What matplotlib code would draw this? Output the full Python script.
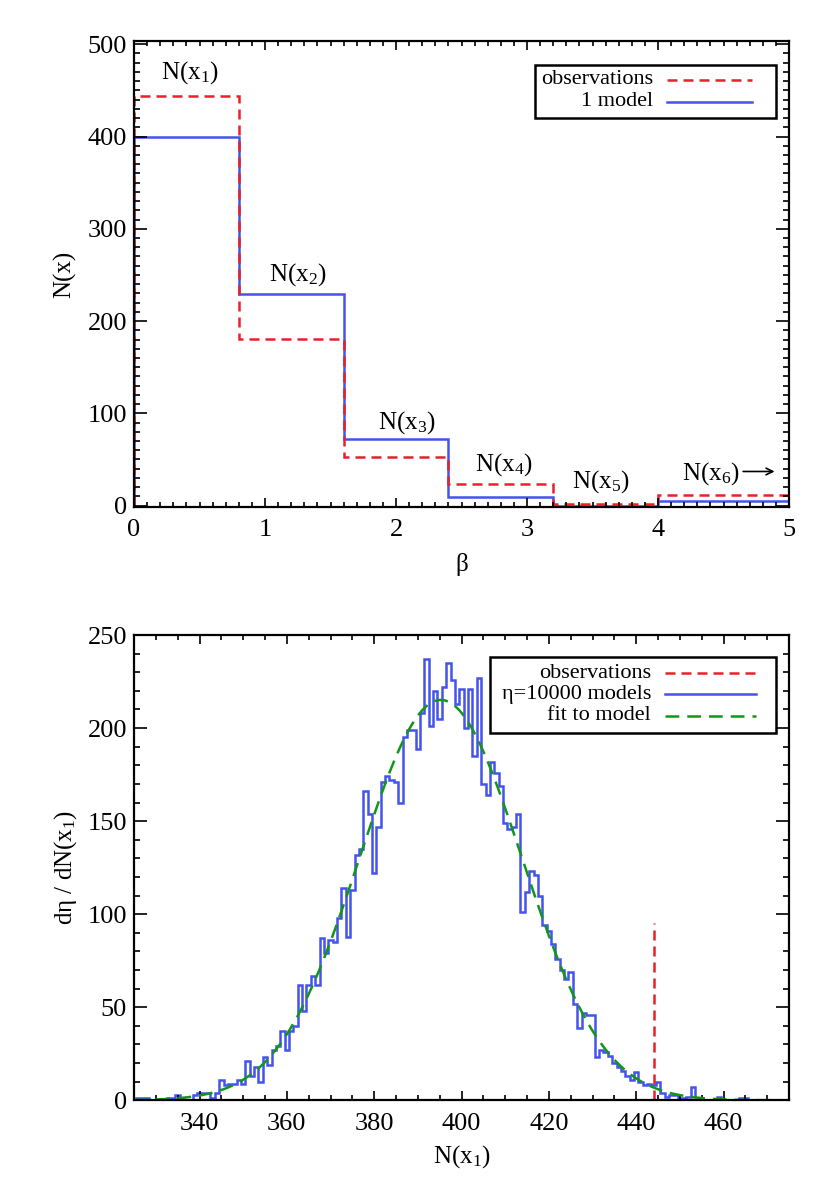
import numpy as np
import matplotlib
matplotlib.use("Agg")
import matplotlib.pyplot as plt
from matplotlib.ticker import MultipleLocator
from matplotlib.patches import Rectangle
from matplotlib.lines import Line2D

plt.rcParams['font.family'] = ['Liberation Serif', 'DejaVu Serif']
plt.rcParams['mathtext.fontset'] = 'custom'
plt.rcParams['mathtext.rm'] = 'Liberation Serif'
plt.rcParams['mathtext.it'] = 'Liberation Serif:italic'
plt.rcParams['mathtext.default'] = 'rm'

RED = '#e8202a'
BLUE = '#4453ec'
GREEN = '#12961a'

# ---- top panel: number of stars per beta bin ----
beta_edges = [0.0, 0.8, 1.6, 2.4, 3.2, 4.0, 5.8]
n_obs = [444, 181, 53, 23, 2, 11]
n_model = [400, 229, 72, 9, 0, 5]
bin_labels = [r'N(x$_1$)', r'N(x$_2$)', r'N(x$_3$)', r'N(x$_4$)', r'N(x$_5$)', r'N(x$_6$)']
label_pos_x = [0.43, 1.25, 2.08, 2.82, 3.56, 4.40]
label_pos_y = [469, 250, 90, 44, 26, 35]

# ---- bottom panel: distribution of N(x1) over 10000 models ----
hist_n = np.arange(325, 476)
hist_counts = [
    0, 1, 1, 1, 0, 0, 0, 0, 1, 1,
    3, 1, 0, 0, 3, 4, 4, 4, 1, 4,
    11, 8, 9, 9, 11, 9, 21, 13, 18, 10,
    23, 19, 27, 29, 37, 27, 37, 40, 62, 48,
    62, 67, 62, 87, 79, 86, 85, 98, 114, 88,
    113, 132, 135, 166, 154, 122, 147, 171, 174, 172,
    171, 160, 195, 199, 199, 189, 208, 237, 201, 220,
    205, 222, 235, 226, 213, 221, 200, 221, 185, 227,
    170, 164, 182, 176, 169, 149, 146, 147, 154, 101,
    112, 123, 121, 110, 94, 91, 84, 76, 70, 65,
    69, 52, 39, 47, 46, 46, 23, 27, 26, 24,
    20, 18, 16, 13, 11, 15, 10, 8, 9, 8,
    10, 4, 2, 3, 3, 1, 1, 2, 7, 0,
    0, 0, 0, 0, 2, 0, 0, 0, 0, 1,
    1, 0, 0, 0, 0, 0, 0, 0, 0, 0, 0,
]
obs_n1 = 444
obs_line_height = 95

W, H = 830, 1186
fig = plt.figure(figsize=(W / 100, H / 100), dpi=100)


def fpx(x, y):
    return x / W, 1 - y / H


def axes_box(l, t, r, b):
    return [l / W, 1 - b / H, (r - l) / W, (b - t) / H]


def style_axes(ax, xmaj, xmin, ymaj, ymin):
    ax.xaxis.set_major_locator(MultipleLocator(xmaj))
    ax.xaxis.set_minor_locator(MultipleLocator(xmin))
    ax.yaxis.set_major_locator(MultipleLocator(ymaj))
    ax.yaxis.set_minor_locator(MultipleLocator(ymin))
    ax.tick_params(which='both', direction='in', top=True, right=True, width=1.2, labelsize=19)
    ax.tick_params(axis='x', which='major', length=6.5, pad=9)
    ax.tick_params(axis='x', which='minor', length=3.3)
    ax.tick_params(axis='y', which='major', length=9.4, pad=5)
    ax.tick_params(axis='y', which='minor', length=4.4)
    for s in ax.spines.values():
        s.set_linewidth(1.6)


def legend_box(entries, box, text_right, line_x, rows):
    l, t, r, b = box
    x0, y0 = fpx(l, b)
    x1, y1 = fpx(r, t)
    fig.patches.append(Rectangle((x0, y0), x1 - x0, y1 - y0, transform=fig.transFigure,
                                 fill=False, lw=1.8, edgecolor='black', zorder=10))
    for (label, color, ls), row in zip(entries, rows):
        tx, ty = fpx(text_right, row)
        fig.text(tx, ty, label, ha='right', va='center', fontsize=16)
        lx0, ly = fpx(line_x[0], row)
        lx1, _ = fpx(line_x[1], row)
        fig.lines.append(Line2D([lx0, lx1], [ly, ly], transform=fig.transFigure,
                                color=color, lw=1.8, linestyle=ls))


# top panel
ax1 = fig.add_axes(axes_box(134, 41.5, 789, 507))
ax1.stairs(n_model, beta_edges, baseline=0, color=BLUE, lw=1.8)
ax1.stairs(n_obs, beta_edges, baseline=0, color=RED, lw=1.8, linestyle=(0, (4, 2.4)))
for lab, bx, by in zip(bin_labels, label_pos_x, label_pos_y):
    ax1.text(bx, by, lab, ha='center', va='center', fontsize=18)
# arrow after the last (open-ended) bin label
ax1.annotate('', xy=(4.89, label_pos_y[-1] + 2), xytext=(4.65, label_pos_y[-1] + 2),
             arrowprops=dict(arrowstyle='->', lw=1.2, color='black',
                             shrinkA=0, shrinkB=0, mutation_scale=12))
ax1.set_xlim(0, 5)
ax1.set_ylim(-1.5, 503)
style_axes(ax1, 1, 0.1, 100, 10)
ax1.set_xlabel('β', fontsize=18, labelpad=8)
ax1.set_ylabel('N(x)', fontsize=18, labelpad=8)

legend_box([('observations', RED, (0, (4, 2.4))), ('1 model', BLUE, '-')],
           (535, 65, 776, 118), 653, (667, 752), (80, 102))

# bottom panel
ax2 = fig.add_axes(axes_box(134, 635, 789, 1100.3))
hist_edges = np.append(hist_n - 0.5, hist_n[-1] + 0.5)
counts = np.array(hist_counts, dtype=float)
ax2.stairs(counts, hist_edges, baseline=0, color=BLUE, lw=1.8)

# gaussian fit to the model distribution (moments of the histogram)
total = counts.sum()
mu = (counts * hist_n).sum() / total
sig = np.sqrt((counts * (hist_n - mu) ** 2).sum() / total)
xf = np.linspace(325, 475, 600)
yf = total / (np.sqrt(2 * np.pi) * sig) * np.exp(-0.5 * ((xf - mu) / sig) ** 2)
ax2.plot(xf, yf, color=GREEN, lw=1.8, linestyle=(0, (5.5, 3.2)))

ax2.plot([obs_n1, obs_n1], [0, obs_line_height], color=RED, lw=1.8, linestyle=(0, (4, 2.4)))
ax2.set_xlim(325, 475)
ax2.set_ylim(0, 250)
style_axes(ax2, 20, 5, 50, 10)
ax2.set_xlabel(r'N(x$_1$)', fontsize=18, labelpad=6)
ax2.set_ylabel(r'dη / dN(x$_1$)', fontsize=18, labelpad=6)

legend_box([('observations', RED, (0, (4, 2.4))),
            ('η=10000 models', BLUE, '-'),
            ('fit to model', GREEN, (0, (5.5, 3.2)))],
           (490, 657, 776, 733), 651, (665, 756), (673, 694, 716))

fig.savefig('out.png', dpi=100)
